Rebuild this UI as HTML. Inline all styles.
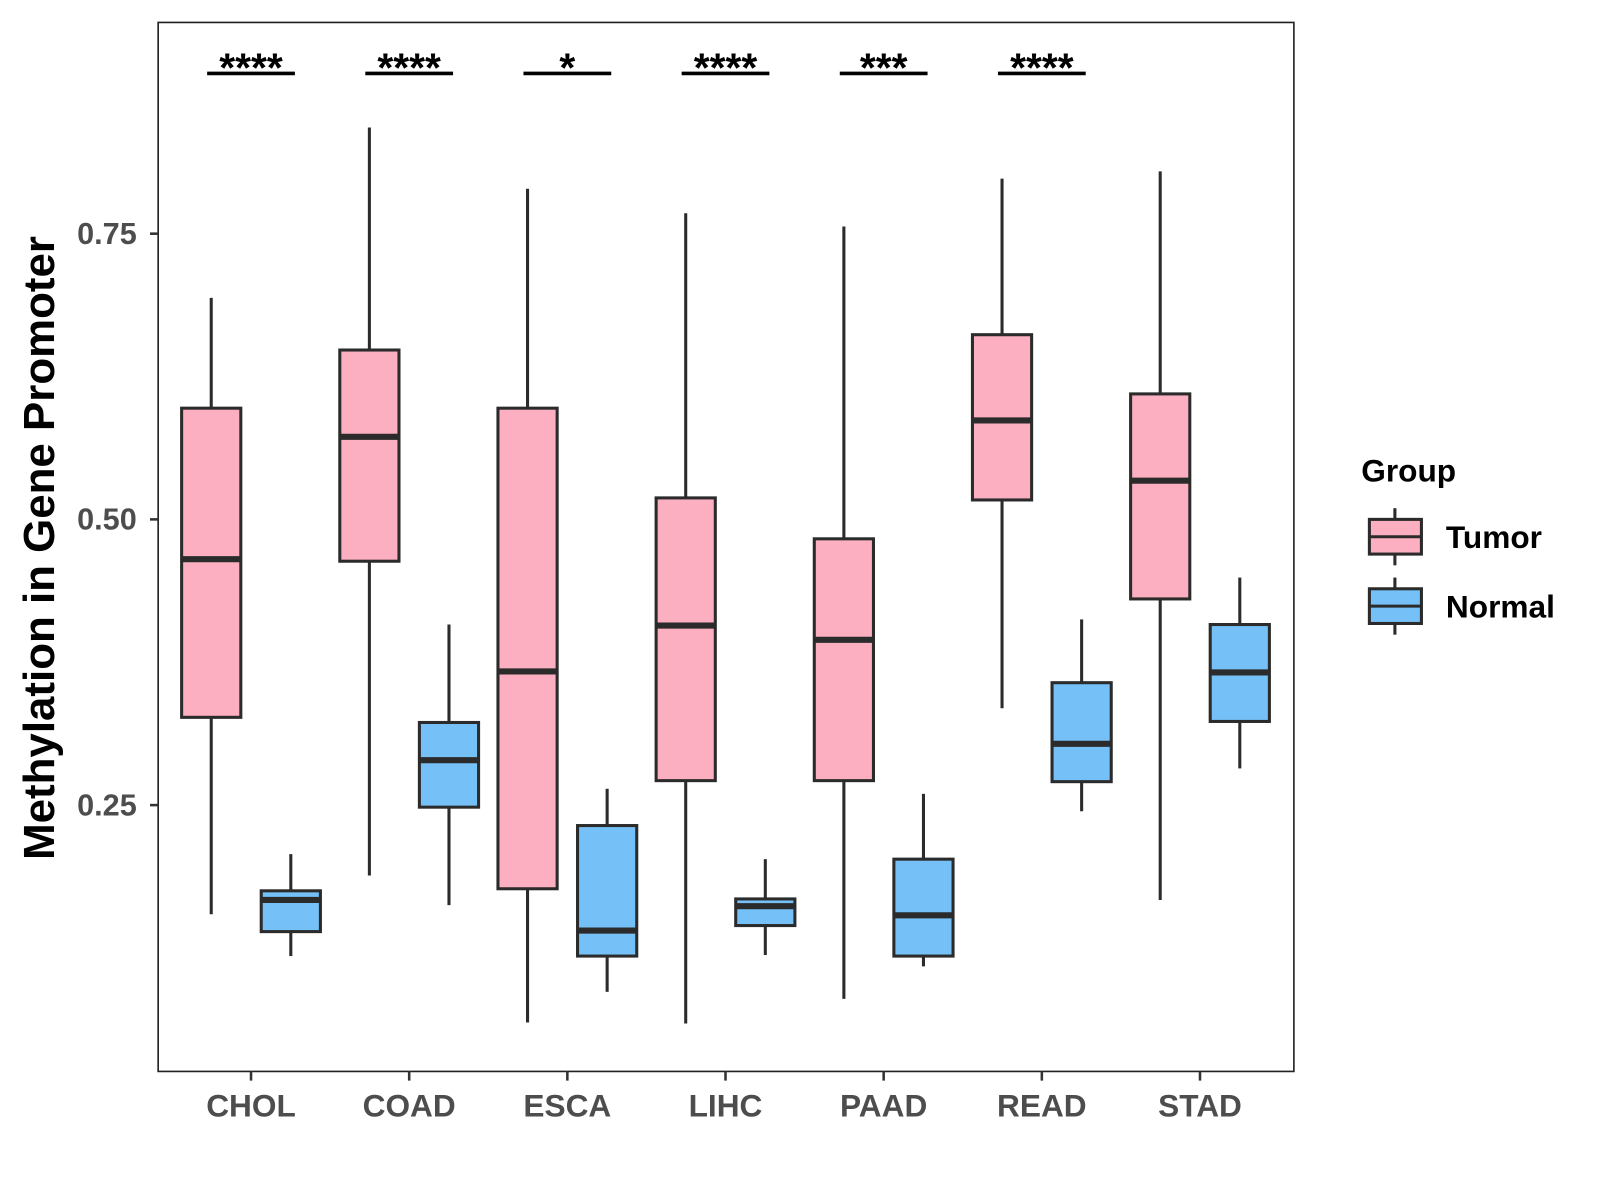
<!DOCTYPE html>
<html><head><meta charset="utf-8"><style>
html,body{margin:0;padding:0;background:#fff;}
svg{display:block;font-family:"Liberation Sans",Arial,sans-serif;}
</style></head><body>
<svg id="chart" width="1600" height="1200" viewBox="0 0 1568 1176" xmlns="http://www.w3.org/2000/svg">
<rect x="0" y="0" width="1568" height="1176" fill="#fff"/>
<g id="plot"></g>
<text transform="translate(53,537) rotate(-90)" text-anchor="middle" font-size="43" font-weight="bold" fill="#000">Methylation in Gene Promoter</text>
<g>
<text x="1334" y="472" font-size="31" font-weight="bold" fill="#000">Group</text>
</g>
</svg>
<script>
const categories = ["CHOL","COAD","ESCA","LIHC","PAAD","READ","STAD"];
// [whiskerLow, Q1, median, Q3, whiskerHigh]
const tumorStats = [
 [0.1545,0.3268,0.4652,0.5973,0.6938],
 [0.1884,0.4634,0.5723,0.6482,0.8429],
 [0.0598,0.1768,0.3670,0.5973,0.7893],
 [0.0589,0.2714,0.4071,0.5188,0.7679],
 [0.0804,0.2714,0.3946,0.4830,0.7563],
 [0.3348,0.5170,0.5866,0.6616,0.7982],
 [0.1670,0.4304,0.5339,0.6098,0.8045]
];
const normalStats = [
 [0.1179,0.1393,0.1670,0.1750,0.2071],
 [0.1625,0.2482,0.2893,0.3223,0.4080],
 [0.0866,0.1179,0.1402,0.2321,0.2643],
 [0.1188,0.1446,0.1616,0.1679,0.2027],
 [0.1089,0.1179,0.1536,0.2027,0.2598],
 [0.2446,0.2705,0.3036,0.3571,0.4125],
 [0.2821,0.3232,0.3661,0.4080,0.4491]
];
const significance = ["****","****","*","****","***","****",""];
const yTicks = [0.25,0.50,0.75];
const yTickLabels = ["0.25","0.50","0.75"];

const NS="http://www.w3.org/2000/svg";
const g=document.getElementById('plot');
const L=155,R=1268,T=22,B=1050;
function y(v){return 509-(v-0.5)*1120;}
function x(i){return 246+i*155;}
function mk(tag,attrs,parent){const e=document.createElementNS(NS,tag);for(const k in attrs)e.setAttribute(k,attrs[k]);(parent||g).appendChild(e);return e;}

const panel=mk('rect',{x:L,y:T,width:R-L,height:B-T,fill:'none',stroke:'#222','stroke-width':1.6});



yTicks.forEach((t,i)=>{
 const tk=mk('line',{x1:L-8,x2:L,y1:y(t),y2:y(t),stroke:'#333','stroke-width':2.5});
 
 
 const tl=mk('text',{x:L-21,y:y(t)+10,'text-anchor':'end','font-size':30,'font-weight':'bold',fill:'#4d4d4d'});
 tl.textContent=yTickLabels[i];
 
 
});

function box(cx,s,fill,name){
 const w=29;
 const grp=mk('g',{});
 
 
 mk('line',{x1:cx,x2:cx,y1:y(s[4]),y2:y(s[3]),stroke:'#2b2b2b','stroke-width':3},grp);
 mk('line',{x1:cx,x2:cx,y1:y(s[1]),y2:y(s[0]),stroke:'#2b2b2b','stroke-width':3},grp);
 mk('rect',{x:cx-w,y:y(s[3]),width:2*w,height:y(s[1])-y(s[3]),fill:fill,stroke:'#2b2b2b','stroke-width':3},grp);
 mk('line',{x1:cx-w,x2:cx+w,y1:y(s[2]),y2:y(s[2]),stroke:'#2b2b2b','stroke-width':6},grp);
}

categories.forEach((c,i)=>{
 const cx=x(i);
 box(cx-39,tumorStats[i],'#fcafc0','tumor-box-'+c.toLowerCase());
 box(cx+39,normalStats[i],'#75c1f7','normal-box-'+c.toLowerCase());
 const tk=mk('line',{x1:cx,x2:cx,y1:B,y2:B+9,stroke:'#333','stroke-width':2.5});
 
 
 const tl=mk('text',{x:cx,y:B+44,'text-anchor':'middle','font-size':31,'font-weight':'bold',fill:'#4d4d4d'});
 tl.textContent=c;
 
 
 if(significance[i]){
  const sl=mk('line',{x1:cx-43,x2:cx+43,y1:72,y2:72,stroke:'#000','stroke-width':3.5});
  
  
  const st=mk('text',{x:cx,y:80,'text-anchor':'middle','font-size':40,'font-weight':'bold',fill:'#000'});
  st.textContent=significance[i];
  
  
 }
});

// legend
const svg=document.getElementById('chart');
[['Tumor','#fcafc0',526],['Normal','#75c1f7',594]].forEach(([lab,col,cy])=>{
 const lg=mk('g',{},svg);
 
 
 mk('line',{x1:1367,x2:1367,y1:cy-28,y2:cy+28,stroke:'#2b2b2b','stroke-width':3},lg);
 mk('rect',{x:1342,y:cy-17,width:51,height:34,fill:col,stroke:'#2b2b2b','stroke-width':3},lg);
 mk('line',{x1:1342,x2:1393,y1:cy,y2:cy,stroke:'#2b2b2b','stroke-width':3},lg);
 const t=mk('text',{x:1417,y:cy+11,'font-size':31,'font-weight':'bold',fill:'#000'},lg);
 t.textContent=lab;
});
</script>
</body></html>
